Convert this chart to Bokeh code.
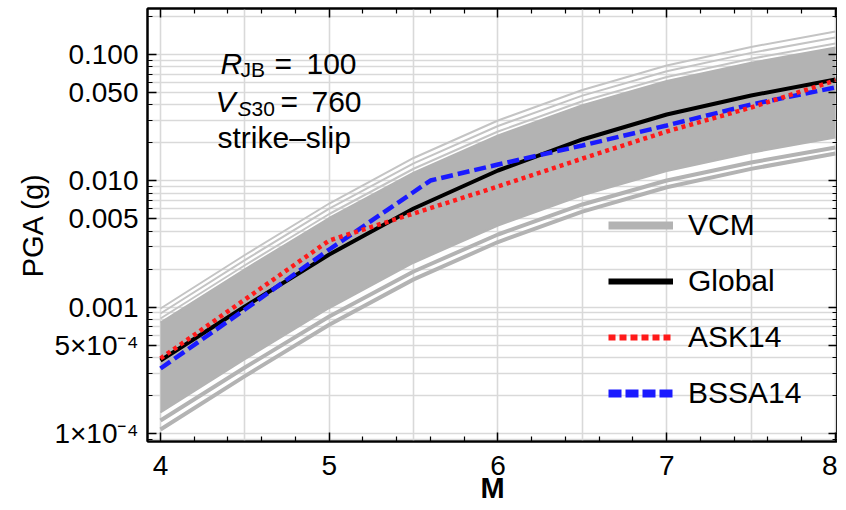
import math
from bokeh.plotting import figure
from bokeh.models import (Range1d, FixedTicker, LinearAxis, LogAxis, Label, Legend,
                          LegendItem, CustomJSTickFormatter, ColumnDataSource)
from bokeh.embed import file_html
from bokeh.resources import INLINE

FONT = "Liberation Sans"

# ---------------- data ----------------
magnitudes = [4.0, 4.5, 5.0, 5.5, 6.0, 6.5, 7.0, 7.5, 8.0]
global_pga = [3.783e-4, 1.012e-3, 2.611e-3, 6.039e-3, 0.01207, 0.02124, 0.03350, 0.04737, 0.06341]
ask14_pga = [3.923e-4, 1.150e-3, 3.371e-3, 5.513e-3, 9.018e-3, 0.01502, 0.02458, 0.03806, 0.06226]
bssa14_m = [4.0, 4.5, 5.0, 5.6, 6.0, 6.5, 7.0, 7.5, 8.0]
bssa14_pga = [3.269e-4, 9.583e-4, 2.860e-3, 0.01005, 0.01347, 0.01905, 0.02742, 0.04019, 0.05481]

# VCM curves: three thin upper curves, dense band (top/bottom), two lower curves
vcm_hi_1 = [9.756e-4, 2.587e-3, 6.614e-3, 0.01516, 0.03003, 0.05236, 0.08184, 0.1147, 0.1521]
vcm_hi_2 = [8.909e-4, 2.358e-3, 6.016e-3, 0.01374, 0.02716, 0.04728, 0.07377, 0.1030, 0.1363]
vcm_hi_3 = [8.133e-4, 2.146e-3, 5.462e-3, 0.01246, 0.02456, 0.04265, 0.06636, 0.09256, 0.1223]
vcm_band_top = [7.562e-4, 1.996e-3, 5.078e-3, 0.01159, 0.02285, 0.03965, 0.06171, 0.08602, 0.1136]
vcm_band_bottom = [1.467e-4, 3.870e-4, 9.849e-4, 2.247e-3, 4.430e-3, 7.689e-3, 0.01196, 0.01668, 0.02203]
vcm_lo_1 = [1.267e-4, 3.329e-4, 8.434e-4, 1.916e-3, 3.760e-3, 6.497e-3, 0.01006, 0.01397, 0.01836]
vcm_lo_2 = [1.076e-4, 2.847e-4, 7.259e-4, 1.659e-3, 3.278e-3, 5.707e-3, 8.894e-3, 0.01243, 0.01646]

x_major = [4, 5, 6, 7, 8]
x_labels = ["4", "5", "6", "7", "8"]
x_minor = [4.2, 4.4, 4.6, 4.8, 5.2, 5.4, 5.6, 5.8, 6.2, 6.4, 6.6, 6.8, 7.2, 7.4, 7.6, 7.8]
x_grid = [4.0, 4.5, 5.0, 5.5, 6.0, 6.5, 7.0, 7.5, 8.0]
y_major = [1e-4, 5e-4, 1e-3, 5e-3, 1e-2, 5e-2, 1e-1]
y_labels = ["1×10⁻⁴", "5×10⁻⁴", "0.001", "0.005", "0.010", "0.050", "0.100"]
y_minor = [m * 10.0 ** e for e in (-5, -4, -3, -2, -1) for m in range(1, 10)]

legend_labels = ["VCM", "Global", "ASK14", "BSSA14"]

# ---------------- geometry ----------------
X0, X1 = 3.923, 8.012
Y0, Y1 = 8.643e-5, 0.2312
FRAME_W, FRAME_H = 690, 433
PAGE_FRAME_LEFT, PAGE_FRAME_TOP = 147, 8


def m_at(px):
    return X0 + (px - PAGE_FRAME_LEFT) / FRAME_W * (X1 - X0)


def pga_at(py):
    lo, hi = math.log10(Y0), math.log10(Y1)
    return 10 ** (hi - (py - PAGE_FRAME_TOP) / FRAME_H * (hi - lo))


VCM_COLOR = "#b3b3b3"
VCM_THIN = "#c4c4c4"

p = figure(frame_width=FRAME_W, frame_height=FRAME_H,
           x_range=Range1d(X0, X1), y_range=Range1d(Y0, Y1),
           y_axis_type="log", output_backend="svg", toolbar_location=None,
           min_border_left=147, min_border_right=0, min_border_top=8, min_border_bottom=0,
           background_fill_color="white", border_fill_color="white",
           outline_line_color="black", outline_line_width=2)

xaxis = p.below[0]
yaxis = p.left[0]

# grid
p.xgrid.ticker = FixedTicker(ticks=x_grid)
p.ygrid.ticker = FixedTicker(ticks=y_minor)
for g in (p.xgrid[0], p.ygrid[0]):
    g.grid_line_color = "#d9d9d9"
    g.grid_line_width = 1.6

# axes
xt = FixedTicker(ticks=x_major, minor_ticks=x_minor)
yt = FixedTicker(ticks=y_major, minor_ticks=y_minor)
xaxis.ticker = xt
yaxis.ticker = yt
xaxis.major_label_overrides = dict(zip(x_major, x_labels))
yaxis.major_label_overrides = dict(zip(y_major, y_labels))

empty = CustomJSTickFormatter(code="return ''")
top_axis = LinearAxis(ticker=xt, formatter=empty)
right_axis = LogAxis(ticker=yt, formatter=empty)
p.add_layout(top_axis, "above")
p.add_layout(right_axis, "right")

for ax in (xaxis, yaxis, top_axis, right_axis):
    ax.axis_line_width = 2
    ax.axis_line_color = "black"
    ax.major_tick_in = 9
    ax.major_tick_out = 0
    ax.minor_tick_in = 5
    ax.minor_tick_out = 0
    ax.major_tick_line_width = 1.5
    ax.minor_tick_line_width = 1.2
    ax.major_tick_line_color = "black"
    ax.minor_tick_line_color = "black"
    ax.major_label_text_font = FONT
    ax.major_label_text_font_size = "28px"
    ax.major_label_text_color = "black"

for ax in (top_axis, right_axis):
    ax.major_label_standoff = 0
    ax.major_label_text_font_size = "1px"

xaxis.major_label_standoff = 14
yaxis.major_label_standoff = 9
xaxis.axis_label = "M"
xaxis.axis_label_text_font = FONT
xaxis.axis_label_text_font_style = "bold"
xaxis.axis_label_text_font_size = "29px"
xaxis.axis_label_text_color = "black"
xaxis.axis_label_standoff = -6
yaxis.axis_label = "PGA (g)"
yaxis.axis_label_text_font = FONT
yaxis.axis_label_text_font_style = "normal"
yaxis.axis_label_text_font_size = "29px"
yaxis.axis_label_text_color = "black"
yaxis.axis_label_standoff = 2

# ---------------- VCM ----------------
vcm_src = ColumnDataSource(dict(m=magnitudes, top=vcm_band_top, bottom=vcm_band_bottom,
                                h1=vcm_hi_1, h2=vcm_hi_2, h3=vcm_hi_3,
                                l1=vcm_lo_1, l2=vcm_lo_2))
p.varea(x="m", y1="bottom", y2="top", source=vcm_src, fill_color=VCM_COLOR)
p.line("m", "top", source=vcm_src, line_color=VCM_COLOR, line_width=2)
p.line("m", "bottom", source=vcm_src, line_color=VCM_COLOR, line_width=2)
for col in ("h1", "h2", "h3"):
    p.line("m", col, source=vcm_src, line_color=VCM_THIN, line_width=2)
for col in ("l1", "l2"):
    p.line("m", col, source=vcm_src, line_color=VCM_COLOR, line_width=4)

# ---------------- models ----------------
p.line(magnitudes, global_pga, line_color="black", line_width=4)
p.line(bssa14_m, bssa14_pga, line_color="#1a1aff", line_width=4.5, line_dash="12 5")
p.line(magnitudes, ask14_pga, line_color="#ff1a1a", line_width=4.5, line_dash="4 4")

# ---------------- legend (style-only renderers, nothing drawn in the frame) ----------------
nan_src = ColumnDataSource(dict(x=[float("nan")], y=[float("nan")]))
lg_vcm = p.line("x", "y", source=nan_src, line_color=VCM_COLOR, line_width=8)
lg_glb = p.line("x", "y", source=nan_src, line_color="black", line_width=6)
lg_ask = p.line("x", "y", source=nan_src, line_color="#ff1a1a", line_width=6, line_dash="7 4")
lg_bss = p.line("x", "y", source=nan_src, line_color="#1a1aff", line_width=8, line_dash="13 4")
legend = Legend(items=[LegendItem(label=l, renderers=[r]) for l, r in
                       zip(legend_labels, [lg_vcm, lg_glb, lg_ask, lg_bss])],
                location=(461, 28), orientation="vertical",
                glyph_width=65, glyph_height=40, label_height=40, label_standoff=15,
                spacing=16, padding=0, margin=0,
                background_fill_alpha=0, border_line_alpha=0,
                label_text_font=FONT, label_text_font_size="30px", label_text_color="black")
p.add_layout(legend)

# ---------------- annotation text ----------------
def lab(text, px, py, size="30px", style="normal"):
    p.add_layout(Label(x=m_at(px), y=pga_at(py), text=text, text_font=FONT,
                       text_font_size=size, text_font_style=style, text_color="black",
                       text_align="left", text_baseline="alphabetic"))


lab("R", 220, 63, style="italic")
lab("JB", 240, 69, size="21px")
lab("=", 274, 63)
lab("100", 306, 63)
lab("V", 215, 101, style="italic")
lab("S", 237, 108, size="21px", style="italic")
lab("30", 251, 108, size="21px")
lab("=", 280, 101)
lab("760", 311, 101)
lab("strike–slip", 217, 137)

open("out.html", "w").write(file_html(p, INLINE))
